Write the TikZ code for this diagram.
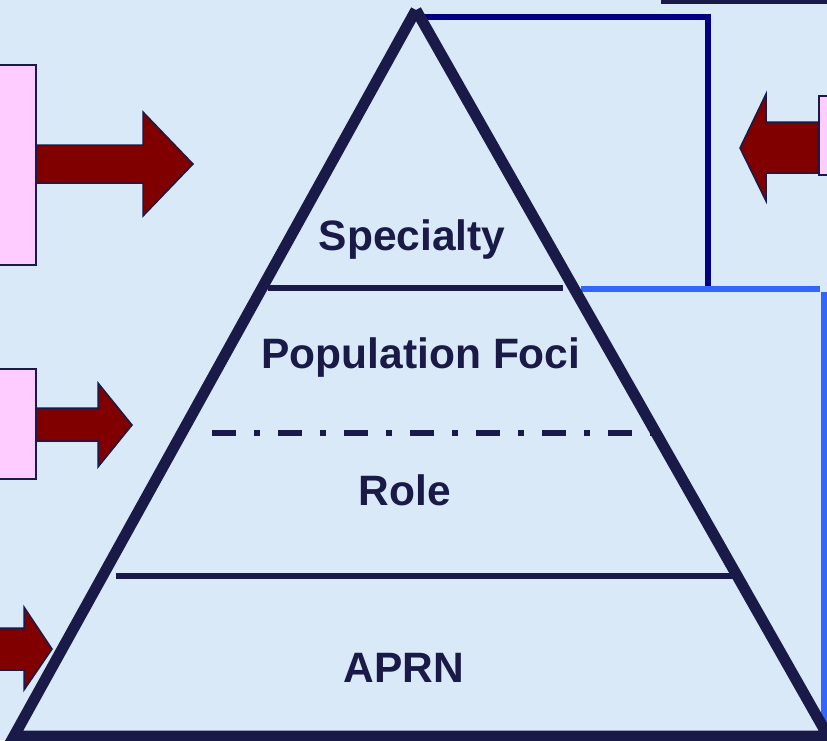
\documentclass[tikz,border=0pt]{standalone}
\usepackage{fontspec}
\setmainfont{Liberation Sans}
\definecolor{bg}{HTML}{D9E9F7}
\definecolor{navy}{HTML}{1A1A48}
\definecolor{deepblue}{HTML}{000080}
\definecolor{brightblue}{HTML}{3366FF}
\definecolor{pinkbox}{HTML}{FFCCFF}
\definecolor{maroon}{HTML}{800000}
\tikzset{
  pyr/.style={draw=navy, line width=11pt, line join=miter, line cap=butt},
  divider/.style={draw=navy, line width=5.5pt},
  dashdiv/.style={draw=navy, line width=5.5pt, dash pattern=on 24pt off 18pt on 6pt off 18pt},
  pinkrect/.style={draw=navy, fill=pinkbox, line width=2pt},
  fatarrow/.style={draw=navy, fill=maroon, line width=1.5pt, line join=miter},
  label/.style={text=navy, font=\bfseries\fontsize{42.5}{50}\selectfont, inner sep=0pt, anchor=base},
  bracketdark/.style={draw=deepblue, line width=5.5pt},
  bracketbright/.style={draw=brightblue, line width=5.5pt}
}
\begin{document}
\begin{tikzpicture}[x=1pt,y=-1pt]
\useasboundingbox (0,0) rectangle (827,740);
\clip (0,0) rectangle (827,740);
\fill[bg] (0,0) rectangle (827,740);
% top-right box edge (mostly off-canvas)
\draw[navy, line width=4pt, fill=bg] (663,-20) rectangle (850,1.5);
% left pink boxes
\draw[pinkrect] (-10,65) rectangle (36,265);
\draw[pinkrect] (-10,369) rectangle (36,479);
% right pink box
\draw[pinkrect] (819,96) rectangle (850,175);
% arrows
\draw[fatarrow] (36,145) -- (143,145) -- (143,112) -- (193,164) -- (143,216) -- (143,183) -- (36,183) -- cycle;
\draw[fatarrow] (36,408) -- (98,408) -- (98,383) -- (132,425) -- (98,467) -- (98,441) -- (36,441) -- cycle;
\draw[fatarrow] (-10,628) -- (24,628) -- (24,607) -- (52,649) -- (24,690) -- (24,670) -- (-10,670) -- cycle;
\draw[fatarrow] (818,122) -- (766,122) -- (766,94) -- (740,148) -- (766,201) -- (766,173) -- (818,173) -- cycle;
% brackets
\coordinate (bd1) at (420,17);
\coordinate (bd2) at (708,17);
\coordinate (bd3) at (708,289);
\draw[bracketdark] (bd1) -- (bd2) -- (bd3);
\coordinate (bb1) at (581,289);
\coordinate (bb2) at (820,289);
\coordinate (bb3) at (824,292);
\coordinate (bb4) at (824,732);
\draw[bracketbright] (bb1) -- (bb2);
\draw[bracketbright] (bb3) -- (bb4);
% dividers
\draw[divider] (268,288) -- (563,288);
\draw[dashdiv] (212,433) -- (662,433);
\draw[divider] (116,576) -- (738,576);
% pyramid
\coordinate (apex) at (416,10);
\coordinate (bl) at (14,736);
\coordinate (br) at (828,736);
\draw[pyr] (apex) -- (bl) -- (br) -- (apex);
% labels
\node[label] (spec) at (412,250) {Specialty};
\node[label] (pop) at (421,368) {Population Foci};
\node[label] (role) at (405,505) {Role};
\node[label] (aprn) at (404,682) {APRN};
\end{tikzpicture}
\end{document}
